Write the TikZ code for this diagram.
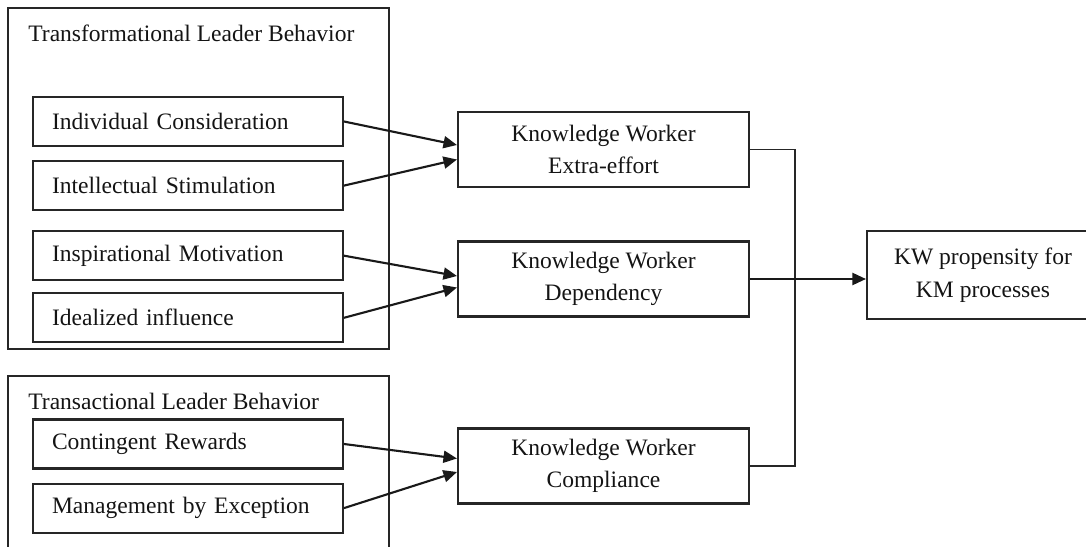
\documentclass[tikz,border=0pt]{standalone}
\usepackage{fontspec}
\setmainfont{Liberation Serif}
\usetikzlibrary{arrows.meta, positioning}

\begin{document}
\begin{tikzpicture}[
    x=0.02cm, y=-0.02cm,
    node distance=0.26cm,
    every node/.style={font=\fontsize{13.4}{18.5}\selectfont, text=black!92},
    grp/.style={rectangle, draw=black!85, line width=1pt, minimum width=7.62cm},
    fac/.style={rectangle, draw=black!85, line width=1.2pt, minimum width=6.2cm,
                minimum height=0.98cm, inner xsep=0.38cm, text width=5.44cm, align=left},
    kw/.style={rectangle, draw=black!85, line width=1.2pt, minimum width=5.82cm,
               minimum height=1.5cm, align=center},
    ttl/.style={anchor=west, inner sep=0pt},
    arr/.style={-{Triangle[length=0.27cm, width=0.24cm]}, line width=1.2pt, draw=black!90},
    link/.style={line width=1pt, draw=black!85}
  ]

  \clip (0,0) rectangle (1086,547);

  %% Leader behavior groups
  \node[grp, minimum height=6.82cm] (tlb) at (198.5,178.5) {};
  \node[grp, minimum height=3.88cm] (tab) at (198.5,473) {};
  \node[ttl] (tlbt) at (28,33) {Transformational Leader Behavior};
  \node[ttl] (tabt) at (28,401) {Transactional Leader Behavior};

  \node[fac] (ind) at (188,121.5) {Individual Consideration};
  \node[fac, below=of ind] (ist) {Intellectual Stimulation};
  \node[fac, below=0.38cm of ist] (insp) {Inspirational Motivation};
  \node[fac, below=0.22cm of insp] (idl) {Idealized influence};

  \node[fac] (cr) at (188,444) {Contingent Rewards};
  \node[fac, below=of cr] (mbe) {Management by Exception};

  %% Knowledge worker outcomes
  \node[kw] (eff) at (603.5,149.5) {Knowledge Worker\\Extra-effort};
  \node[kw] (dep) at (603.5,279) {Knowledge Worker\\Dependency};
  \node[kw] (cmp) at (603.5,466) {Knowledge Worker\\Compliance};

  \node[kw, minimum width=4.64cm, minimum height=1.76cm] (fin) at (983,275)
       {KW propensity for\\KM processes};

  %% Arrows into outcomes
  \draw[arr] (ind.east)  -- ([yshift=0.09cm]eff.west);
  \draw[arr] (ist.east)  -- ([yshift=-0.2cm]eff.west);
  \draw[arr] (insp.east) -- ([yshift=0.06cm]dep.west);
  \draw[arr] (idl.east)  -- ([yshift=-0.17cm]dep.west);
  \draw[arr] (cr.east)   -- ([yshift=0.15cm]cmp.west);
  \draw[arr] (mbe.east)  -- ([yshift=-0.12cm]cmp.west);

  %% Collector line
  \draw[link] (eff.east) -- ++(45,0) |- (cmp.east);
  \draw[arr] (dep.east) -- (dep.east -| fin.west);

\end{tikzpicture}
\end{document}
